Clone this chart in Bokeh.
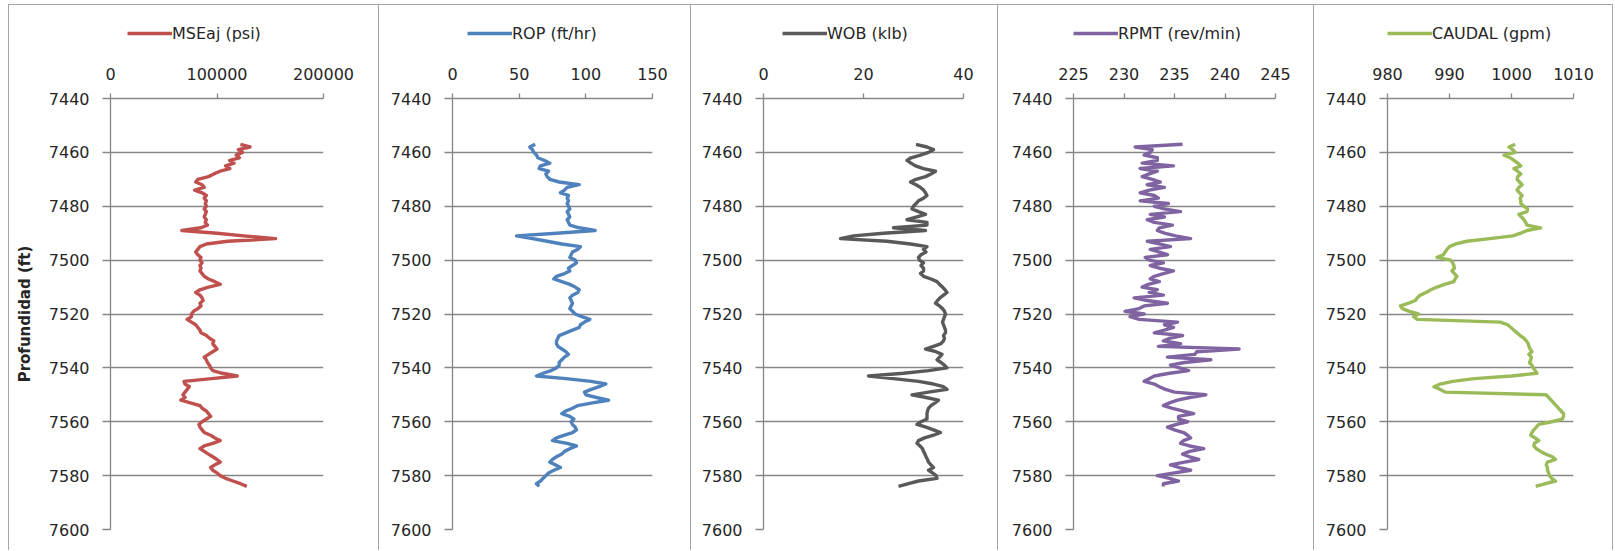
from bokeh.plotting import figure
from bokeh.layouts import row, column
from bokeh.models import Range1d, FixedTicker, BasicTickFormatter, Legend, LegendItem
from bokeh.embed import file_html
from bokeh.resources import INLINE

# ---------------- data ----------------
depth = list(range(7457, 7585))  # ft, one reading per foot

mse = [122000, 131000, 120000, 124000, 118000, 121000, 112000, 116000, 108000, 112000,
       103000, 97000, 92000, 82000, 80000, 86000, 88000, 79000, 86000, 90000,
       88000, 90000, 89000, 90000, 88000, 90000, 89000, 88000, 90000, 89000,
       91000, 85000, 67000, 100000, 125000, 155000, 110000, 90000, 84000, 82000,
       80000, 82000, 85000, 84000, 86000, 84000, 85000, 84000, 86000, 88000,
       92000, 98000, 103000, 92000, 84000, 80000, 84000, 86000, 87000, 84000,
       85000, 82000, 78000, 76000, 76000, 72000, 76000, 80000, 82000, 84000,
       85000, 90000, 93000, 97000, 96000, 98000, 100000, 96000, 92000, 88000,
       90000, 91000, 93000, 94000, 96000, 105000, 119000, 95000, 69000, 70000,
       74000, 72000, 70000, 68000, 70000, 66000, 75000, 84000, 86000, 90000,
       92000, 94000, 90000, 86000, 83000, 84000, 86000, 88000, 94000, 98000,
       103000, 96000, 88000, 84000, 88000, 92000, 96000, 100000, 103000, 98000,
       94000, 96000, 100000, 103000, 108000, 115000, 122000, 128000]

rop = [62, 58, 60, 61, 63, 64, 69, 73, 66, 65,
       72, 70, 71, 73, 80, 95, 86, 84, 81, 87,
       86, 87, 86, 87, 88, 86, 87, 88, 86, 87,
       88, 95, 107, 78, 48, 60, 71, 82, 96, 94,
       90, 89, 88, 92, 93, 90, 87, 88, 84, 78,
       76, 82, 88, 92, 95, 94, 90, 88, 89, 90,
       89, 88, 90, 92, 97, 103, 99, 96, 95, 90,
       85, 80, 79, 78, 78, 79, 82, 85, 87, 84,
       82, 80, 80, 78, 74, 68, 63, 85, 104, 115,
       110, 104, 99, 100, 108, 117, 105, 94, 90, 85,
       82, 88, 91, 89, 90, 92, 93, 90, 84, 78,
       75, 86, 93, 88, 84, 82, 78, 75, 73, 77,
       81, 76, 72, 70, 68, 66, 63, 65]

wob = [30.5, 32.7, 34, 33, 31.4, 29.5, 28.7, 29.5, 30.4, 32,
       34.4, 33.5, 32.4, 30.5, 29.4, 30.5, 31.4, 32, 32.4, 32.7,
       32, 31, 30.5, 30, 29.7, 31, 32.4, 30.5, 28.7, 32.7,
       32.7, 26, 32.4, 24, 18, 15.4, 24.7, 29.4, 32.7, 32,
       32.5, 31.5, 31, 31.2, 32, 31.5, 32, 32, 31.4, 32,
       33.5, 34.7, 35.2, 35.8, 36.3, 36.7, 36, 35.3, 34.8, 34.4,
       35.2, 35.8, 36.2, 36.4, 36.2, 36, 35.8, 36, 36.2, 36.4,
       36.4, 36, 36.2, 36, 35.5, 34, 32.4, 34.5, 35.7, 35.2,
       34.7, 35.5, 36.2, 36.7, 33, 28, 21, 26, 31, 34,
       36, 36.7, 33, 29.7, 32.5, 35, 34.3, 33.5, 33, 32.8,
       32.7, 32.7, 32.7, 31.5, 30.7, 32.5, 34, 35.4, 34, 32.2,
       31, 30.7, 31.3, 31.8, 32, 32.3, 32.5, 32.8, 33, 33.5,
       34, 33, 33.8, 34.5, 34.7, 31, 29, 27]

rpmt = [235.8, 231.1, 232.8, 232.6, 232, 233.3, 233.3, 231.8, 234.9, 231.6,
        233.3, 232.5, 231.8, 232.8, 233.6, 232.3, 234, 232.5, 231.6, 233,
        233.4, 231.6, 234.4, 233, 234, 235.6, 232.6, 234, 232.3, 233,
        234.8, 233.5, 233.3, 234, 235.1, 236.6, 232.3, 233.5, 234.6, 232.6,
        233.5, 234.3, 232.1, 232.5, 233.9, 232.6, 233.5, 234.9, 233.9, 233,
        232.6, 233.5, 232.4, 231.8, 233.3, 232.5, 233.9, 231, 232.3, 234.3,
        232, 231.5, 230.1, 232, 230.6, 231.5, 235.3, 234, 234.9, 234,
        233, 235.8, 234.5, 233.9, 235.6, 233.4, 241.4, 237.2, 237, 234.3,
        238.6, 236, 234.6, 235.5, 236.4, 234.5, 233, 232.5, 232, 233,
        233.5, 234.1, 235, 238.1, 236.5, 235.3, 234.5, 233.9, 234.8, 235.8,
        236.9, 235.4, 235.4, 236.3, 235.2, 234.3, 235, 235.9, 236.3, 236.6,
        235.9, 235.6, 236.5, 237.9, 236.5, 235.8, 236.5, 237.4, 236, 234.6,
        235.5, 236.6, 235, 233.3, 234.5, 235.4, 233.9, 233.9]

caudal = [1000.6, 999.6, 1000.2, 1000.6, 998.8, 999.8, 1000.4, 1001, 1001.5, 1000.4,
          1001, 1001.5, 1001, 1000.9, 1001.3, 1001.7, 1001.2, 1000.9, 1001.3, 1001.7,
          1001.4, 1001.5, 1001.5, 1002, 1002.6, 1002.5, 1001.2, 1001.6, 1002, 1002.3,
          1002.5, 1004.7, 1002.5, 1001.5, 1000.2, 996.5, 992.8, 991, 990, 989.6,
          989.3, 989, 988, 990.2, 990.5, 990.7, 990.8, 990.4, 990.8, 991.2,
          990.9, 990.7, 989.2, 988, 987, 986.2, 985.3, 984.8, 984.5, 983.4,
          982.1, 982.4, 983.5, 985, 984.2, 984.8, 998.2, 999.4, 999.9, 1000.4,
          1000.9, 1001.4, 1002, 1002.4, 1002.7, 1002.8, 1003, 1003.3, 1002.8, 1003.2,
          1003.1, 1002.9, 1003.3, 1003.5, 1003.8, 1004.1, 1000, 994, 990.5, 988.5,
          987.5, 988.5, 989.3, 1005.6, 1006, 1006.4, 1006.8, 1007.2, 1007.6, 1008,
          1008.4, 1008.4, 1008.2, 1006.5, 1004.4, 1004, 1003.6, 1003.3, 1003.1, 1003.8,
          1004.4, 1003.7, 1003.6, 1004, 1004.7, 1005.5, 1006.6, 1007.1, 1005.8, 1005.6,
          1005.8, 1005.8, 1006, 1006.1, 1006.5, 1007.1, 1005.5, 1003.9]

labels = ["MSEaj (psi)", "ROP (ft/hr)", "WOB (klb)", "RPMT (rev/min)", "CAUDAL (gpm)"]
x_ticks = [[0, 100000, 200000], [0, 50, 100, 150], [0, 20, 40],
           [225, 230, 235, 240, 245], [980, 990, 1000, 1010]]
depth_ticks = [7440, 7460, 7480, 7500, 7520, 7540, 7560, 7580, 7600]
y_title = "Profundidad (ft)"

# ---------------- style / layout ----------------
colors = ["#C0504D", "#4F81BD", "#595959", "#8064A2", "#9BBB59"]
series = [mse, rop, wob, rpmt, caudal]
# (panel width, border left, border right, legend offset from frame left)
geom = [(369, 101, 55, 17), (311, 73, 38, 15), (306, 72, 34, 19),
        (315, 75, 38, 0), (298, 73, 39, 0)]
LEG_H = 40
MAIN_H = 505
B_TOP, B_BOT = 53, 21
GRID = "#868686"
TXT = "#262626"
FONT = "DejaVu Sans"
LW = 3.4

cols = []
for i in range(5):
    w, bl, br, lx = geom[i]
    ticks = x_ticks[i]

    # legend strip above the chart (the series itself lies outside this strip's ranges)
    lp = figure(width=w, height=LEG_H, output_backend="svg", toolbar_location=None,
                x_axis_type=None, y_axis_type=None,
                x_range=Range1d(0, 1), y_range=Range1d(0, 1),
                min_border_left=bl, min_border_right=br,
                min_border_top=0, min_border_bottom=0)
    lp.outline_line_color = None
    lp.background_fill_color = "white"
    lp.border_fill_color = "white"
    lp.grid.visible = False
    lr = lp.line(x=series[i], y=depth, line_color=colors[i], line_width=LW)
    leg = Legend(items=[LegendItem(label=labels[i], renderers=[lr])],
                 location=(lx, 2),
                 orientation="horizontal", padding=0, margin=0, spacing=0,
                 glyph_width=45, glyph_height=20, label_height=20,
                 label_standoff=0, border_line_color=None,
                 background_fill_alpha=0,
                 label_text_font=FONT, label_text_font_size="16px",
                 label_text_color=TXT)
    lp.add_layout(leg)

    p = figure(width=w, height=MAIN_H, output_backend="svg", toolbar_location=None,
               x_axis_location="above",
               x_range=Range1d(ticks[0], ticks[-1]),
               y_range=Range1d(depth_ticks[-1], depth_ticks[0]),
               min_border_left=bl, min_border_right=br,
               min_border_top=B_TOP, min_border_bottom=B_BOT)
    p.outline_line_color = None
    p.background_fill_color = "white"
    p.border_fill_color = "white"

    xa = p.xaxis[0]
    xa.ticker = FixedTicker(ticks=ticks)
    xa.formatter = BasicTickFormatter(use_scientific=False)
    ya = p.yaxis[0]
    ya.ticker = FixedTicker(ticks=depth_ticks)
    ya.formatter = BasicTickFormatter(use_scientific=False)
    for ax in (xa, ya):
        ax.axis_line_color = GRID
        ax.axis_line_width = 1.3
        ax.major_tick_line_color = GRID
        ax.major_tick_line_width = 1.3
        ax.minor_tick_line_color = None
        ax.major_tick_in = 0
        ax.major_label_text_font = FONT
        ax.major_label_text_font_size = "16px"
        ax.major_label_text_color = TXT
    xa.major_tick_out = 5
    xa.major_label_standoff = 14
    ya.major_tick_out = 8
    ya.major_label_standoff = 13

    if i == 0:
        ya.axis_label = y_title
        ya.axis_label_text_font = FONT
        ya.axis_label_text_font_size = "15px"
        ya.axis_label_text_font_style = "bold"
        ya.axis_label_text_color = TXT
        ya.axis_label_standoff = 12

    p.xgrid.visible = False
    p.ygrid.ticker = FixedTicker(ticks=depth_ticks)
    p.ygrid.grid_line_color = GRID
    p.ygrid.grid_line_width = 1.3

    p.line(x=series[i], y=depth, line_color=colors[i], line_width=LW,
           line_join="round")

    cols.append(column(lp, p, spacing=0, styles={"background-color": "white"}))

layout = row(*cols, spacing=1,
             styles={"background-color": "#a6a6a6",
                     "padding": "1px 1px 0px 1px",
                     "margin": "4px 0px 0px 8px"})

open("out.html", "w").write(file_html(layout, INLINE))
